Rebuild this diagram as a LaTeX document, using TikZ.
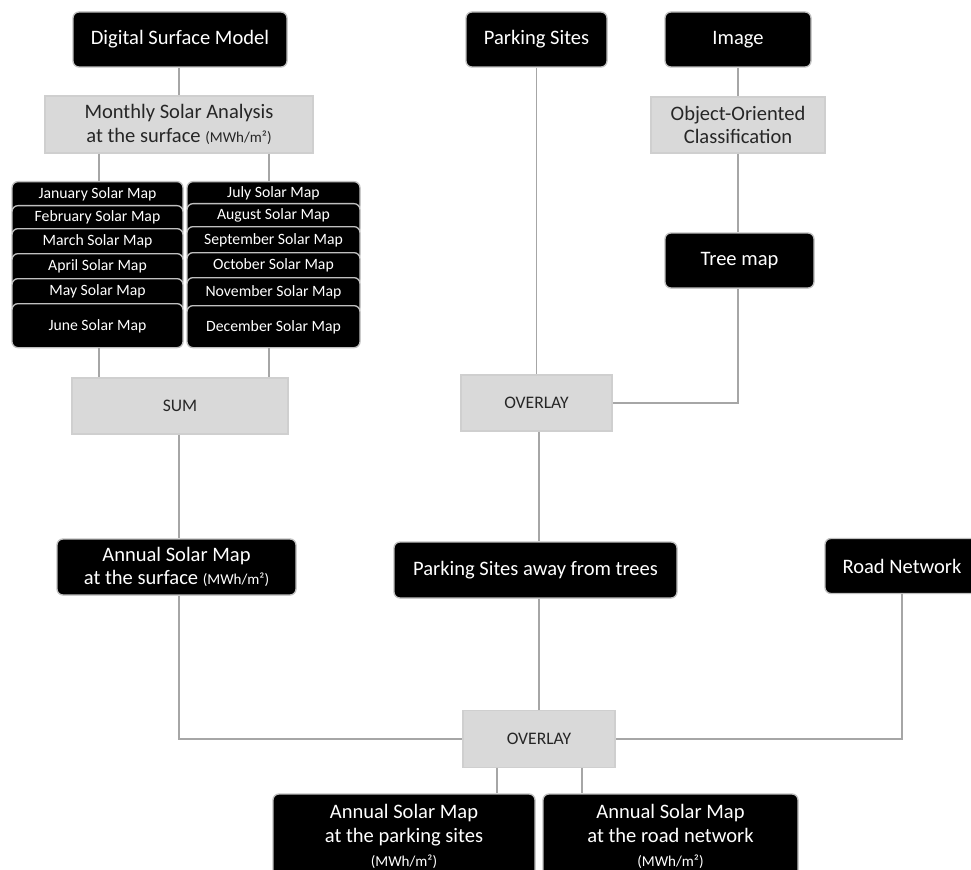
\documentclass[tikz,border=0pt]{standalone}
\usepackage{fontspec}
\setmainfont{Carlito}
\definecolor{boxedge}{HTML}{BFBFBF}
\definecolor{stepfill}{HTML}{D9D9D9}
\definecolor{stepedge}{HTML}{CFCFCF}
\definecolor{linkgray}{HTML}{A6A6A6}
\definecolor{steptext}{HTML}{262626}
\newcommand{\pxu}{0.75pt}
\newcommand{\unitsmall}{{\fontsize{11.3}{13}\selectfont(MWh/m²)}}
\tikzset{
  datanode/.style={draw=boxedge, fill=black, text=white, rounded corners=4.5pt,
                   line width=1pt, inner sep=0pt, align=center,
                   font=\fontsize{15.4}{17.5}\selectfont},
  stepnode/.style={draw=stepedge, fill=stepfill, text=steptext, inner sep=0pt,
                   align=center, line width=0.8pt,
                   font=\fontsize{15.4}{17.5}\selectfont},
  opnode/.style={stepnode, font=\fontsize{13.2}{15}\selectfont},
  monthnode/.style={datanode, anchor=north, font=\fontsize{11.8}{13}\selectfont,
                    text height=8pt},
  link/.style={draw=linkgray, line width=1.1pt},
}

\begin{document}
\begin{tikzpicture}[x=0.75pt, y=-0.75pt]
    \useasboundingbox (0,0) rectangle (971,870);
    \clip (0,0) rectangle (971,870);
    \node[datanode, minimum width=214*\pxu, minimum height=55*\pxu] (dsm) at (180,39.5) {Digital Surface Model};
    \node[stepnode, minimum width=268*\pxu, minimum height=57*\pxu] (monthly) at (179,124.5) {Monthly Solar Analysis\\at the surface \unitsmall};
    \foreach \nm/\mon/\top/\vis/\dy in {jan/January/181/24/8, feb/February/205/23/8, mar/March/228/25/8,
                                         apr/April/253/25/8, may/May/278/25/8, jun/June/303/44/0}
      \node[monthnode, minimum width=171*\pxu, minimum height=(\vis+\dy)*\pxu,
            text depth=1pt+\dy*\pxu] (\nm) at (97.5,\top) {\mon{} Solar Map};
    \foreach \nm/\mon/\top/\vis/\dy in {jul/July/181/22/8, aug/August/203/23/8, sep/September/226/26/8,
                                         oct/October/252/25/8, nov/November/277/28/8, dec/December/305/42/0}
      \node[monthnode, minimum width=173*\pxu, minimum height=(\vis+\dy)*\pxu,
            text depth=1pt+\dy*\pxu] (\nm) at (273.5,\top) {\mon{} Solar Map};
    \node[opnode, minimum width=216*\pxu, minimum height=56*\pxu] (sum) at (180,406) {SUM};
    \node[datanode, minimum width=239*\pxu, minimum height=56*\pxu] (annual) at (176.5,567) {Annual Solar Map\\at the surface \unitsmall};

    \node[datanode, minimum width=141*\pxu, minimum height=55*\pxu] (parking) at (536.5,39.5) {Parking Sites};
    \node[datanode, minimum width=146*\pxu, minimum height=55*\pxu] (image) at (738,39.5) {Image};
    \node[stepnode, minimum width=174*\pxu, minimum height=56*\pxu] (obj) at (738,125) {Object-Oriented\\Classification};
    \node[datanode, minimum width=149*\pxu, minimum height=55*\pxu] (tree) at (739.5,260.5) {Tree map};
    \node[opnode, minimum width=151*\pxu, minimum height=56*\pxu] (ovla) at (536.5,403) {OVERLAY};
    \node[datanode, minimum width=283*\pxu, minimum height=56*\pxu] (away) at (535.5,570) {Parking Sites away from trees};
    \node[datanode, minimum width=154*\pxu, minimum height=55*\pxu] (road) at (902,566) {Road Network};
    \node[opnode, minimum width=152*\pxu, minimum height=57*\pxu] (ovlb) at (539,739) {OVERLAY};
    \node[datanode, minimum width=262*\pxu, minimum height=84*\pxu] (parksolar) at (404,836) {Annual Solar Map\\[1pt]at the parking sites\\\unitsmall};
    \node[datanode, minimum width=255*\pxu, minimum height=84*\pxu] (roadsolar) at (670.5,836) {Annual Solar Map\\[1pt]at the road network\\\unitsmall};

    \coordinate (lcol) at (99,0);
    \coordinate (rcol) at (269,0);
    \coordinate (pcol) at (497,0);
    \coordinate (ncol) at (582,0);
    \coordinate (scol) at (179,0);

    \draw[link] (dsm.south -| scol) -- (monthly.north -| scol);
    \draw[link] (monthly.south -| lcol) -- (jan.north -| lcol);
    \draw[link] (monthly.south -| rcol) -- (jul.north -| rcol);
    \draw[link] (jun.south -| lcol) -- (sum.north -| lcol);
    \draw[link] (dec.south -| rcol) -- (sum.north -| rcol);
    \draw[link] (sum.south -| scol) -- (annual.north -| scol);
    \draw[link] (annual.south -| scol) |- (ovlb.west);
    \draw[link] (parking.south) -- (parking.south |- ovla.north);
    \draw[link] (image.south) -- (obj.north);
    \draw[link] (obj.south) -- (obj.south |- tree.north);
    \draw[link] (tree.south -| obj.south) |- (ovla.east);
    \draw[link] (ovla.south -| ovlb.north) -- (away.north -| ovlb.north);
    \draw[link] (away.south -| ovlb.north) -- (ovlb.north);
    \draw[link] (road.south) |- (ovlb.east);
    \draw[link] (ovlb.south -| pcol) -- (parksolar.north -| pcol);
    \draw[link] (ovlb.south -| ncol) -- (roadsolar.north -| ncol);
\end{tikzpicture}
\end{document}
